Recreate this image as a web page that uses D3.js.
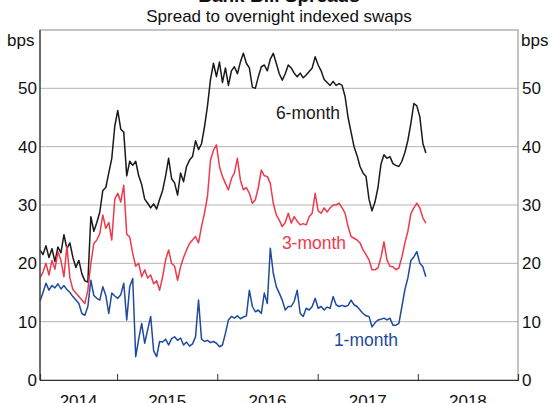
<!DOCTYPE html>
<html>
<head>
<meta charset="utf-8">
<script src="https://cdn.jsdelivr.net/npm/d3@7"></script>
<style>
  body { margin: 0; background: #fff; }
  text { font-family: "Liberation Sans", Arial, sans-serif; }
</style>
</head>
<body>
<div id="chart"></div>
<script>
// Bank bill spreads to OIS, sampled roughly every 11 days
const startDate = new Date(2014, 2, 26);
const stepDays = 10.9;

const sixMonth = [22.3, 21.5, 23.0, 21.0, 22.5, 20.3, 22.8, 21.8, 24.9, 22.5, 23.5, 21.0, 19.3, 20.5, 18.2, 17.0, 16.8, 28.0, 25.5, 27.0,
  28.8, 32.5, 33.0, 35.5, 38.0, 43.5, 46.2, 43.0, 42.5, 35.0, 37.5, 36.8, 37.5, 35.0, 33.5, 31.0, 30.3, 29.5, 30.2, 29.3,
  31.0, 32.5, 35.0, 38.0, 34.5, 33.8, 31.7, 35.5, 34.0, 36.6, 37.7, 38.3, 41.0, 39.5, 40.5, 43.4, 47.0, 51.5, 54.3, 52.0,
  54.5, 51.0, 53.5, 50.5, 53.0, 53.7, 52.5, 54.5, 56.0, 54.3, 53.5, 50.2, 50.0, 52.0, 53.7, 54.0, 53.0, 55.0, 56.0, 54.3,
  52.5, 51.4, 52.5, 54.0, 53.5, 52.6, 52.0, 52.6, 51.8, 52.3, 52.9, 53.5, 55.4, 54.0, 53.0, 51.5, 51.0, 50.5, 51.2, 50.5,
  50.8, 50.5, 48.6, 45.0, 42.5, 40.0, 38.5, 36.6, 35.5, 34.9, 31.0, 29.0, 30.5, 33.0, 37.0, 38.6, 38.0, 38.3, 37.1, 36.8,
  36.6, 37.5, 39.0, 41.1, 44.0, 47.4, 47.0, 45.1, 40.6, 38.9];

const threeMonth = [17.5, 18.5, 20.0, 18.0, 20.5, 19.0, 22.0, 20.5, 17.7, 22.9, 17.5, 15.5, 14.9, 14.3, 13.7, 13.1, 15.4, 20.0, 23.4, 24.0,
  25.1, 28.3, 26.0, 27.0, 24.0, 31.0, 32.0, 30.5, 33.4, 25.0, 24.5, 21.7, 19.5, 20.0, 17.7, 18.9, 17.5, 18.0, 16.5, 17.0,
  15.4, 17.7, 20.6, 22.3, 20.0, 19.5, 17.1, 19.4, 21.0, 22.3, 23.4, 24.0, 24.6, 23.5, 26.3, 28.6, 31.5, 37.7, 39.4, 40.3,
  36.6, 34.9, 33.7, 32.6, 34.5, 35.5, 38.0, 34.3, 32.6, 33.0, 32.0, 30.3, 30.9, 33.0, 36.0, 35.0, 34.9, 33.7, 30.3, 28.3,
  27.4, 26.3, 27.0, 28.6, 26.9, 28.0, 27.2, 26.6, 26.8, 26.6, 28.0, 28.6, 32.0, 29.0, 28.6, 29.5, 28.8, 29.5, 30.0, 30.0,
  30.3, 29.5, 28.6, 26.3, 24.6, 24.3, 24.0, 23.5, 22.3, 21.5, 20.6, 18.9, 18.9, 19.2, 21.0, 23.7, 20.6, 19.5, 19.4, 18.9,
  19.2, 21.1, 23.5, 25.5, 28.5, 29.5, 30.3, 29.5, 27.8, 26.9];

const oneMonth = [13.5, 15.0, 16.6, 15.4, 16.2, 15.8, 16.5, 15.6, 16.2, 15.5, 15.0, 14.3, 13.7, 13.1, 11.4, 11.1, 12.6, 17.1, 14.5, 14.0,
  13.7, 16.0, 14.5, 11.4, 14.9, 14.4, 14.0, 14.6, 16.6, 10.3, 16.0, 17.4, 4.0, 7.0, 9.7, 6.3, 8.6, 10.9, 5.0, 4.0,
  6.6, 6.5, 7.0, 6.0, 7.1, 7.4, 6.8, 7.2, 6.0, 6.5, 5.8, 6.2, 7.4, 13.7, 7.0, 6.6, 6.8, 6.4, 6.6, 6.3,
  5.7, 6.0, 8.0, 10.3, 10.9, 10.6, 11.0, 10.5, 10.8, 11.0, 15.4, 12.6, 11.7, 12.0, 11.4, 14.9, 13.1, 22.6, 18.3, 16.0,
  14.9, 13.7, 12.0, 12.6, 12.6, 13.5, 15.4, 11.4, 10.9, 12.3, 12.0, 12.6, 14.0, 12.3, 12.6, 12.0, 12.5, 12.3, 14.3, 12.9,
  12.6, 12.8, 12.6, 12.8, 13.7, 12.9, 12.6, 12.0, 11.4, 11.0, 10.9, 9.1, 9.8, 10.3, 10.4, 10.6, 10.3, 10.6, 9.4, 9.4,
  9.7, 12.6, 15.5, 17.5, 20.5, 21.1, 22.0, 20.0, 19.4, 17.7];

const yTicks = [0, 10, 20, 30, 40, 50];
const yearLabels = [2014, 2015, 2016, 2017, 2018];

const width = 558, height = 403;
const margin = { left: 40, right: 40, top: 30, bottom: 23 };

const svg = d3.select('#chart').append('svg')
    .attr('width', width)
    .attr('height', height);

const x = d3.scaleTime()
    .domain([startDate, new Date(2019, 0, 1)])
    .range([margin.left, width - margin.right]);
const y = d3.scaleLinear()
    .domain([0, 60])
    .range([height - margin.bottom, margin.top]);

const dateAt = i => new Date(startDate.getTime() + i * stepDays * 864e5);

// Titles (main title is clipped by the top edge, as in the source)
svg.append('text')
    .attr('x', 279).attr('y', 2)
    .attr('text-anchor', 'middle')
    .attr('font-size', 19).attr('font-weight', 'bold')
    .attr('fill', '#111')
    .text('Bank Bill Spreads');
svg.append('text')
    .attr('x', 279).attr('y', 22)
    .attr('text-anchor', 'middle')
    .attr('font-size', 17)
    .attr('fill', '#111')
    .text('Spread to overnight indexed swaps');

// Gridlines
svg.append('g')
    .selectAll('line')
    .data(yTicks.filter(d => d > 0))
    .join('line')
    .attr('x1', margin.left).attr('x2', width - margin.right)
    .attr('y1', d => y(d)).attr('y2', d => y(d))
    .attr('stroke', '#b4b4b4').attr('stroke-width', 1);

// Lines
const line = d3.line()
    .x((d, i) => x(dateAt(i)))
    .y(d => y(d));
[[sixMonth, '#1a1a1a'], [threeMonth, '#ee3a4d'], [oneMonth, '#1f4a9e']].forEach(([data, color]) => {
    svg.append('path')
        .datum(data)
        .attr('fill', 'none')
        .attr('stroke', color)
        .attr('stroke-width', 1.5)
        .attr('stroke-linejoin', 'round')
        .attr('d', line);
});

// Frame
svg.append('rect')
    .attr('x', margin.left).attr('y', margin.top)
    .attr('width', width - margin.left - margin.right)
    .attr('height', height - margin.top - margin.bottom)
    .attr('fill', 'none').attr('stroke', '#8a8a8a').attr('stroke-width', 1);
svg.append('line')
    .attr('x1', margin.left).attr('x2', margin.left)
    .attr('y1', margin.top).attr('y2', y(0))
    .attr('stroke', '#333').attr('stroke-width', 1.2);

// X axis with year ticks pointing inward, labels between ticks
const xAxis = svg.append('g')
    .attr('transform', `translate(0,${y(0)})`)
    .call(d3.axisTop(x).ticks(d3.timeYear.every(1)).tickSize(6).tickFormat(''));
xAxis.select('.domain').attr('stroke', '#333').attr('stroke-width', 1.2);
xAxis.selectAll('.tick line').attr('stroke', '#333');

svg.append('g')
    .selectAll('text')
    .data(yearLabels)
    .join('text')
    .attr('x', d => {
        const a = Math.max(x(new Date(d, 0, 1)), margin.left);
        const b = x(new Date(d + 1, 0, 1));
        return (a + b) / 2;
    })
    .attr('y', 407)
    .attr('text-anchor', 'middle')
    .attr('font-size', 17)
    .attr('fill', '#111')
    .text(d => d);

// Y labels both sides
svg.append('g')
    .selectAll('text')
    .data(yTicks)
    .join('text')
    .attr('x', margin.left - 3)
    .attr('y', d => y(d))
    .attr('dy', '0.36em')
    .attr('text-anchor', 'end')
    .attr('font-size', 17)
    .attr('fill', '#111')
    .text(d => d);
svg.append('g')
    .selectAll('text')
    .data(yTicks)
    .join('text')
    .attr('x', width - margin.right + 4)
    .attr('y', d => y(d))
    .attr('dy', '0.36em')
    .attr('text-anchor', 'start')
    .attr('font-size', 17)
    .attr('fill', '#111')
    .text(d => d);

svg.append('text')
    .attr('x', 7).attr('y', 46)
    .attr('font-size', 17).attr('fill', '#111')
    .text('bps');
svg.append('text')
    .attr('x', 521).attr('y', 46)
    .attr('font-size', 17).attr('fill', '#111')
    .text('bps');

// Series labels
const labels = [
    { text: '6-month', x: 308, y: 119, color: '#1a1a1a' },
    { text: '3-month', x: 314, y: 249, color: '#ee3a4d' },
    { text: '1-month', x: 366, y: 346, color: '#1f4a9e' }
];
svg.append('g')
    .selectAll('text')
    .data(labels)
    .join('text')
    .attr('x', d => d.x).attr('y', d => d.y)
    .attr('text-anchor', 'middle')
    .attr('font-size', 17.5)
    .attr('fill', d => d.color)
    .text(d => d.text);
</script>
</body>
</html>
